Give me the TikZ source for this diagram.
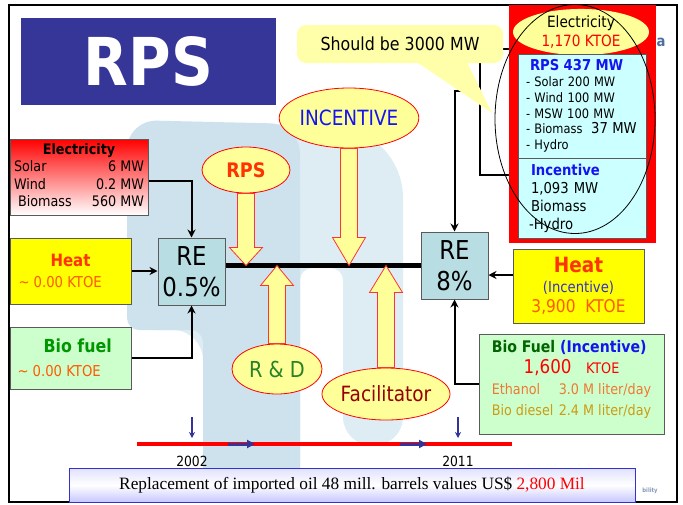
\documentclass[tikz,border=0pt]{standalone}
\usepackage{fontspec}
\setmainfont{DejaVu Sans}[FakeStretch=0.88]
\newfontfamily\timesfont{Liberation Serif}
\usetikzlibrary{shapes.geometric,arrows.meta,calc}

\definecolor{titleblue}{RGB}{54,54,153}
\definecolor{boxgray}{RGB}{90,90,90}
\definecolor{reblue}{RGB}{184,222,228}
\definecolor{paleyellow}{RGB}{255,255,153}
\definecolor{calloutyellow}{RGB}{255,255,170}
\definecolor{heatyellow}{RGB}{255,255,0}
\definecolor{heatred}{RGB}{255,51,0}
\definecolor{ktoeorange}{RGB}{255,90,0}
\definecolor{biogreen}{RGB}{204,255,204}
\definecolor{leafgreen}{RGB}{0,150,0}
\definecolor{darkgreen}{RGB}{0,100,0}
\definecolor{rndgreen}{RGB}{40,130,40}
\definecolor{facred}{RGB}{150,0,0}
\definecolor{incblue}{RGB}{20,20,240}
\definecolor{paleblue}{RGB}{51,51,204}
\definecolor{cyanbox}{RGB}{204,255,255}
\definecolor{ethorange}{RGB}{240,120,50}
\definecolor{dieselgold}{RGB}{205,155,20}
\definecolor{tlblue}{RGB}{51,51,153}
\definecolor{wmA}{RGB}{206,226,238}
\definecolor{wmB}{RGB}{222,236,244}
\definecolor{logoblue}{RGB}{80,110,160}

\begin{document}
\begin{tikzpicture}[x=1pt, y=-1pt,
  fs/.style 2 args={font=\fontsize{#1}{#2}\selectfont},
  box/.style={draw=boxgray, line width=1pt, inner sep=0pt},
  rebox/.style={box, fill=reblue, minimum width=67pt, minimum height=67pt,
    align=center, fs={26}{31}},
  bubble/.style={ellipse, draw=red, line width=0.8pt, fill=paleyellow, inner sep=0pt},
  cybox/.style={box, fill=cyanbox, minimum width=128pt, align=left},
  conn/.style={line width=2pt, -{Stealth[length=8pt,width=8pt]}},
  fat/.style={draw=red!80, line width=0.8pt, fill=paleyellow,
    to path={let \p1=(\tikztostart), \p2=(\tikztotarget),
      \n1={(\y2<\y1) ? 1 : -1} in
      (\x1-8.5pt,\y1) -- (\x1-8.5pt,\y2+\n1*#1) -- (\x1-16.5pt,\y2+\n1*#1)
      -- (\x2,\y2) -- (\x1+16.5pt,\y2+\n1*#1) -- (\x1+8.5pt,\y2+\n1*#1)
      -- (\x1+8.5pt,\y1) -- cycle}},
  fat/.default=22pt,
  tlarrow/.style={tlblue, line width=3pt, -{Triangle[length=8pt,width=8pt]}},
  tick/.style={tlblue, line width=1.5pt, -{Stealth[length=6pt,width=6pt]}}
]
\useasboundingbox (0,0) rectangle (683,504);
\fill[white] (0,0) rectangle (683,504);

% faint logo in the background
\fill[wmB, rounded corners=30pt] (127,330) -- (127,120) [rounded corners=70pt]
  -- (403,128) [rounded corners=28pt] -- (403,445) -- (343,445)
  [rounded corners=12pt] -- (343,268) -- (300,268) [rounded corners=30pt]
  -- (300,502) -- (203,502) -- (203,330) -- cycle;
\fill[wmA, rounded corners=30pt] (127,330) -- (127,120) -- (300,124)
  [rounded corners=12pt] -- (300,502) -- (203,502) -- (203,330) -- cycle;

% frame
\draw[line width=2.5pt] (9,5) rectangle (677,502);

\node[fill=titleblue, minimum width=255pt, minimum height=87pt, text=white,
  font=\fontsize{66}{66}\selectfont\bfseries] (title) at (148.5,61.5) {RPS};

% inputs of the 2002 status
\node[box, top color=red, bottom color=white, minimum width=138pt, minimum height=76pt,
  fs={14.5}{17.5}] (elec) at (79,177) {%
  \begin{tabular*}{130pt}{@{}l@{\extracolsep{\fill}}r@{}}
  \multicolumn{2}{c}{\bfseries Electricity}\\
  Solar & 6 MW\\
  Wind & 0.2 MW\\
  \ Biomass & 560 MW\ \end{tabular*}};
\node[box, fill=heatyellow, minimum width=121pt, minimum height=66pt, align=center,
  fs={15}{21}] (heat) at (70.5,271)
  {{\fontsize{17}{17}\selectfont\bfseries\color{heatred}Heat}\\
   \makebox[104pt][l]{\color{ktoeorange}\textasciitilde{} 0.00 KTOE}};
\node[box, fill=biogreen, minimum width=121pt, minimum height=62pt, align=center,
  fs={15}{24}] (bio) at (70.5,358)
  {\makebox[106pt][l]{\hspace{26pt}\fontsize{18}{18}\selectfont\bfseries\color{leafgreen}Bio fuel}\\
   \makebox[106pt][l]{\color{ktoeorange}\textasciitilde{} 0.00 KTOE}};

\node[rebox] (re05) at (191.5,271.5) {RE\\0.5\%};
\node[rebox] (re8) at (454.5,265.5) {RE\\8\%};

% targets of 2011
\node[box, fill=heatyellow, minimum width=131pt, minimum height=74pt, align=center,
  fs={15}{20}] (heat2) at (578.5,286)
  {{\fontsize{21}{21}\selectfont\bfseries\color{heatred}Heat}\\
   {\color{paleblue}(Incentive)}\\
   {\fontsize{17.5}{17.5}\selectfont\color{ktoeorange}3,900\ \ KTOE}};
\node[box, fill=biogreen, minimum width=185pt, minimum height=100pt,
  fs={14.5}{21}] (bio2) at (571.5,384) {%
  \begin{tabular}{@{}l@{}}
  {\fontsize{16}{16}\selectfont\bfseries\color{darkgreen}Bio Fuel \color{incblue}(Incentive)}\\
  \multicolumn{1}{c}{\color{red}{\fontsize{19}{19}\selectfont 1,600}\quad KTOE}\\
  \color{ethorange}\makebox[67pt][l]{Ethanol}3.0 M liter/day\\
  \color{dieselgold}\makebox[67pt][l]{Bio diesel}2.4 M liter/day\\[8pt]
  \end{tabular}};

% electricity column
\node[fill=red, minimum width=147pt, minimum height=238pt] (redcol) at (582.5,124) {};
\node[ellipse, fill=paleyellow, minimum width=136pt, minimum height=36pt, inner sep=0pt,
  align=center, fs={15.5}{19}] (elell) at (581,32) {Electricity\\{\color{red}1,170 KTOE}};
\node[cybox, minimum height=104pt, text width=112pt, inner xsep=8pt, fs={13}{15.8}]
  (rpsbox) at (582,106)
  {\hspace*{4pt}{\fontsize{15}{15}\selectfont\bfseries\color{incblue}RPS 437 MW}\\
   - Solar 200 MW\\
   - Wind 100 MW\\
   - MSW 100 MW\\
   - Biomass\ \ {\fontsize{15}{15}\selectfont 37 MW}\\
   - Hydro};
\node[cybox, minimum height=80pt, text width=102pt, inner xsep=13pt, fs={15}{18}]
  (incbox) at (582,198)
  {{\bfseries\color{incblue}Incentive}\\
   1,093 MW\\
   Biomass\\
   \hspace*{-2pt}-Hydro};
\node[draw, ellipse, line width=0.8pt, minimum width=160pt, minimum height=229pt]
  (bigell) at (575,119) {};
\node[text=logoblue, font=\fontsize{15}{15}\selectfont\bfseries] (logoa) at (661,42) {a};

% links from the electricity column
\coordinate (brkT) at (509,49);
\coordinate (brkB) at (509,175);
\coordinate (brkX) at (480,91);
\draw[line width=2pt] (brkT) -| (brkX) |- (brkB);
\draw[conn] (brkX) -| (re8.north);

\node[fill=calloutyellow, rounded corners=9pt, minimum width=206pt, minimum height=38pt,
  fs={18}{18}] (should) at (400,44) {Should be 3000 MW};
\coordinate (tip) at (492,113);
\fill[calloutyellow] ([xshift=17pt,yshift=1pt]should.south) -- (tip)
  -- ([xshift=67pt,yshift=1pt]should.south) -- cycle;

% connectors into the RE boxes
\draw[conn] ([yshift=-4pt]elec.east) -| (re05.north);
\draw[conn] (heat.east) -- (heat.east -| re05.west);
\draw[conn] (bio.east) -| (re05.south);
\draw[conn] ([yshift=11pt]heat2.west) coordinate (h2) -- (h2 -| re8.east);
\draw[conn] (bio2.west) -| (re8.south);

\draw[line width=5.5pt] (re05.east |- re8.west) -- (re8.west);

% measures acting on the path
\node[bubble, minimum width=88pt, minimum height=46pt, text=heatred,
  font=\fontsize{20}{20}\selectfont\bfseries] (rps) at (246,170) {RPS};
\node[bubble, minimum width=128pt, minimum height=60pt, text=incblue,
  fs={21}{21}] (incentive) at (349,118) {INCENTIVE};
\node[bubble, minimum width=90pt, minimum height=50pt, text=rndgreen,
  fs={22}{22}] (rnd) at (277,369) {R \& D};
\node[bubble, minimum width=116pt, minimum height=52pt, text=facred,
  fs={21}{21}] (facil) at (386,394) {Facilitator};

\draw[fat=18pt] (rps.south) to (rps.south |- re8.west);
\draw[fat=28pt] (incentive.south) to (incentive.south |- re8.west);
\draw[fat=20pt] (rnd.north) to (rnd.north |- re8.west);
\draw[fat=27pt] (facil.north) to (facil.north |- re8.west);

% time line
\coordinate (tl0) at (137,444);
\coordinate (tl1) at (512,444);
\draw[red, line width=4pt] (tl0) -- (tl1);
\draw[tlarrow] (228,444) -- (255,444);
\draw[tlarrow] (400,444) -- (427,444);
\draw[tick] (192,417) -- (192,438);
\draw[tick] (458,417) -- (458,438);
\node[fs={14}{14}] (y2002) at (192,461) {2002};
\node[fs={14}{14}] (y2011) at (458,461) {2011};

\node[draw=paleblue, line width=1pt, top color=blue!12, bottom color=blue!22,
  middle color=white, minimum width=566pt, minimum height=34pt,
  font=\timesfont\fontsize{17.3}{20}\selectfont] (summary) at (352,485)
  {Replacement of imported oil 48 mill. barrels values US\$ \textcolor{red}{2,800 Mil}};
\node[text=logoblue!70, font=\fontsize{6}{6}\selectfont\bfseries] (logob) at (650,491) {bility};
\end{tikzpicture}
\end{document}
